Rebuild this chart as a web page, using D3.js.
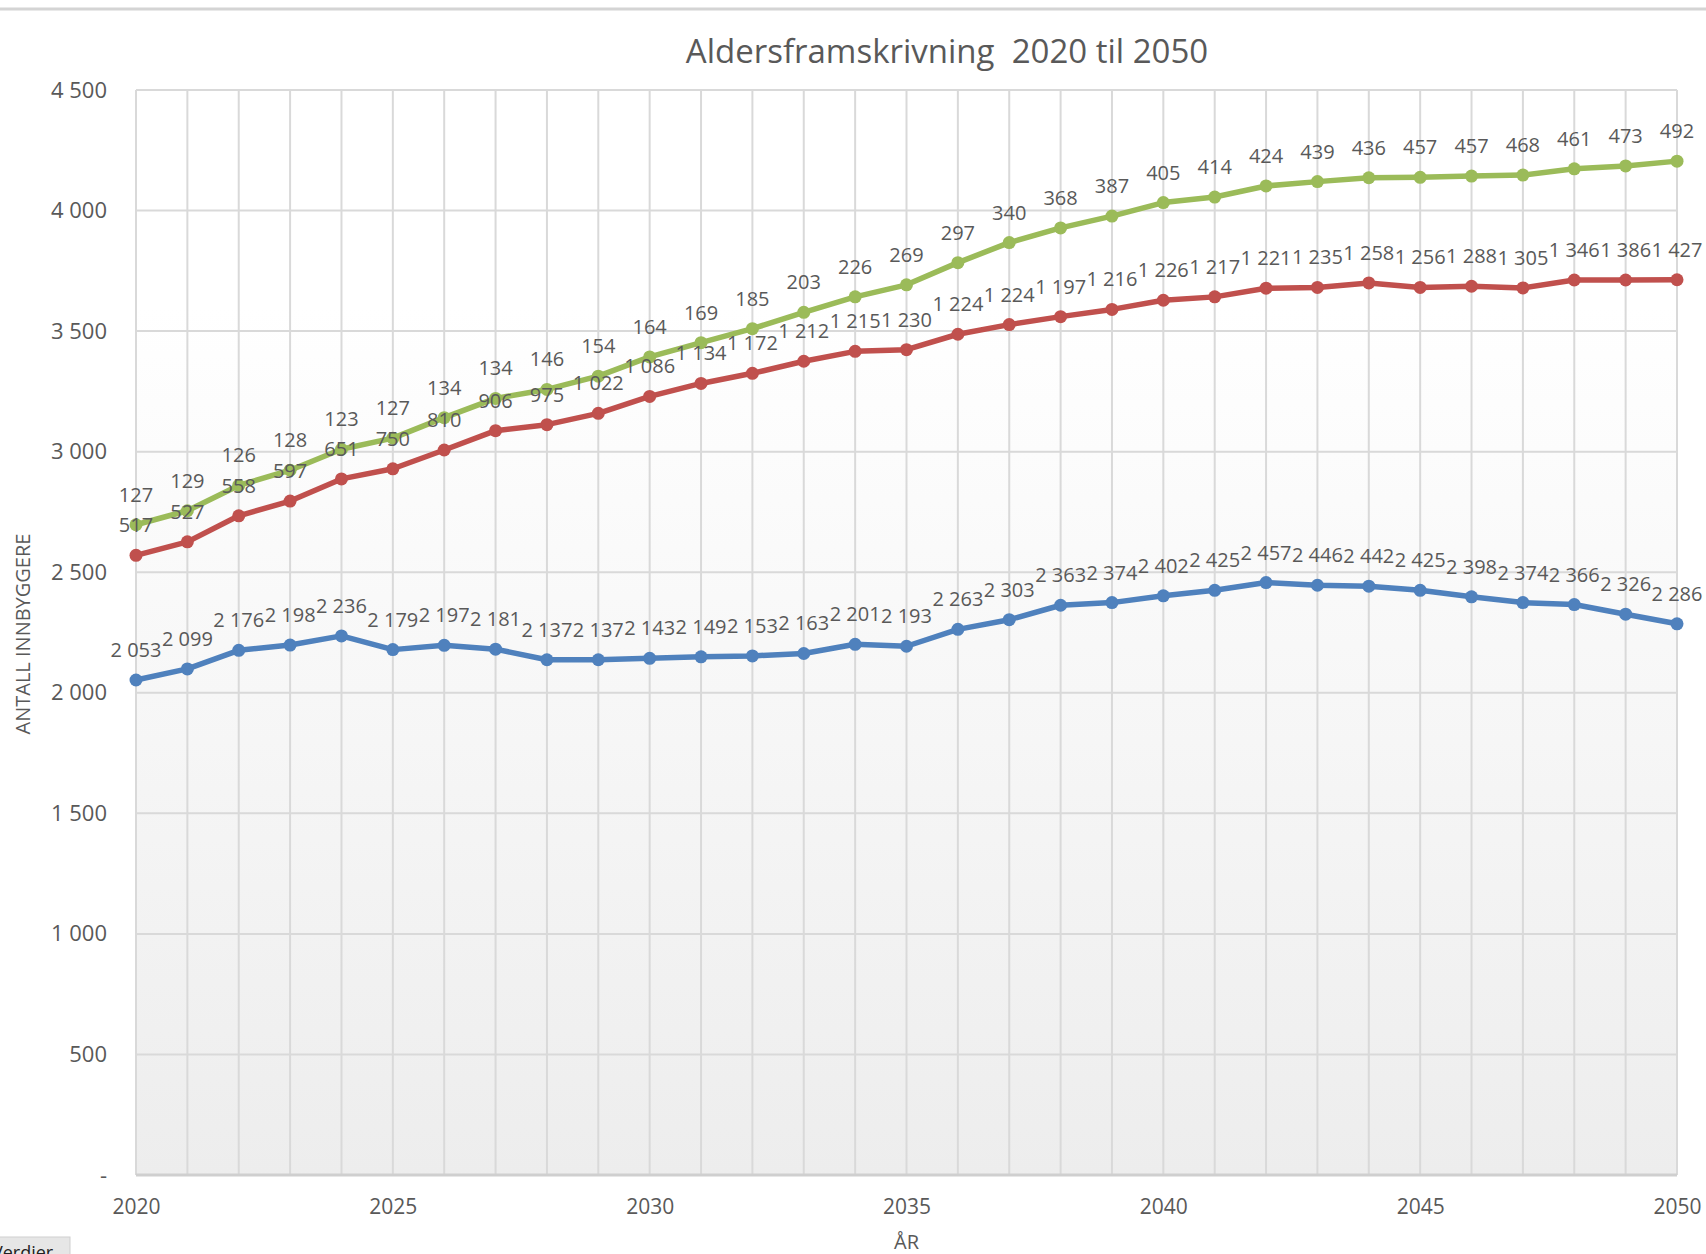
<html>
<head>
<meta charset="utf-8">
<title>Aldersframskrivning</title>
<style>
  body { margin: 0; background: #fff; }
  text { font-family: "Open Sans", sans-serif; fill: #595959; }
</style>
</head>
<body>
<script src="https://cdn.jsdelivr.net/npm/d3@7/dist/d3.min.js"></script>
<script>
// år
var years = d3.range(2020, 2051);
// serier (stablet)
var blue = [2053, 2099, 2176, 2198, 2236, 2179, 2197, 2181, 2137, 2137, 2143, 2149, 2153, 2163, 2201, 2193,
            2263, 2303, 2363, 2374, 2402, 2425, 2457, 2446, 2442, 2425, 2398, 2374, 2366, 2326, 2286];
var red = [517, 527, 558, 597, 651, 750, 810, 906, 975, 1022, 1086, 1134, 1172, 1212, 1215, 1230,
           1224, 1224, 1197, 1216, 1226, 1217, 1221, 1235, 1258, 1256, 1288, 1305, 1346, 1386, 1427];
var green = [127, 129, 126, 128, 123, 127, 134, 134, 146, 154, 164, 169, 185, 203, 226, 269,
             297, 340, 368, 387, 405, 414, 424, 439, 436, 457, 457, 468, 461, 473, 492];
var yTicks = [0, 500, 1000, 1500, 2000, 2500, 3000, 3500, 4000, 4500];
var xTicks = [2020, 2025, 2030, 2035, 2040, 2045, 2050];

var W = 1706, H = 1254;
var pl = 136, pr = 1677, pt = 90, pb = 1175;

var loc = d3.formatLocale({decimal: ",", thousands: "\u00a0", grouping: [3], currency: ["", " kr"]});
var fmt = loc.format(",d");

var svg = d3.select("body").append("svg").attr("width", W).attr("height", H);

var x = d3.scaleLinear().domain([2020, 2050]).range([pl, pr]);
var y = d3.scaleLinear().domain([0, 4500]).range([pb, pt]);

// bakgrunn
var grad = svg.append("defs").append("linearGradient")
  .attr("id", "bg").attr("x1", 0).attr("y1", 0).attr("x2", 0).attr("y2", 1);
grad.append("stop").attr("offset", "0").attr("stop-color", "#ffffff");
grad.append("stop").attr("offset", "0.2").attr("stop-color", "#ffffff");
grad.append("stop").attr("offset", "1").attr("stop-color", "#ededed");

svg.append("line").attr("x1", 0).attr("x2", W).attr("y1", 9).attr("y2", 9)
  .attr("stroke", "#d4d4d4").attr("stroke-width", 3);

svg.append("rect").attr("x", pl).attr("y", pt).attr("width", pr - pl).attr("height", pb - pt)
  .attr("fill", "url(#bg)");

// rutenett
svg.append("g").selectAll("line").data(yTicks.slice(1)).enter().append("line")
  .attr("x1", pl).attr("x2", pr).attr("y1", d => y(d)).attr("y2", d => y(d))
  .attr("stroke", "#d9d9d9").attr("stroke-width", 2);
svg.append("g").selectAll("line").data(years).enter().append("line")
  .attr("x1", d => x(d)).attr("x2", d => x(d)).attr("y1", pt).attr("y2", pb)
  .attr("stroke", "#d9d9d9").attr("stroke-width", 2);
svg.append("line").attr("x1", pl).attr("x2", pr).attr("y1", pb).attr("y2", pb)
  .attr("stroke", "#cfcfcf").attr("stroke-width", 3);

// akser
var yAxis = d3.axisLeft(y).tickValues(yTicks).tickSize(0).tickPadding(0)
  .tickFormat(d => d === 0 ? "-" : fmt(d));
var gy = svg.append("g").attr("transform", "translate(" + (pl - 29) + ",0)").call(yAxis);
gy.select(".domain").remove();
gy.selectAll("text").attr("font-size", 22).style("fill", "#595959").attr("font-family", "Open Sans");

var xAxis = d3.axisBottom(x).tickValues(xTicks).tickSize(0).tickPadding(0).tickFormat(d3.format("d"));
var gx = svg.append("g").attr("transform", "translate(0," + (pb + 24) + ")").call(xAxis);
gx.select(".domain").remove();
gx.selectAll("text").attr("font-size", 21).style("fill", "#595959").attr("font-family", "Open Sans");

// stablede verdier
var s1 = blue.slice();
var s2 = blue.map((v, i) => v + red[i]);
var s3 = s2.map((v, i) => v + green[i]);

var series = [
  {vals: s1, labels: blue, color: "#4f81bd"},
  {vals: s2, labels: red, color: "#c0504d"},
  {vals: s3, labels: green, color: "#9bbb59"}
];

var line = d3.line().x((d, i) => x(years[i])).y(d => y(d));

series.forEach(function(s) {
  svg.append("path").attr("d", line(s.vals)).attr("fill", "none")
    .attr("stroke", s.color).attr("stroke-width", 5.5).attr("stroke-linejoin", "round");
  svg.append("g").selectAll("circle").data(s.vals).enter().append("circle")
    .attr("cx", (d, i) => x(years[i])).attr("cy", d => y(d)).attr("r", 6.5)
    .attr("fill", s.color);
});

series.forEach(function(s) {
  svg.append("g").selectAll("text").data(s.vals).enter().append("text")
    .attr("x", (d, i) => x(years[i])).attr("y", d => y(d) - 23)
    .attr("text-anchor", "middle").attr("font-size", 20)
    .text((d, i) => fmt(s.labels[i]));
});

// titler
svg.append("text").attr("x", 947).attr("y", 63).attr("text-anchor", "middle")
  .attr("font-size", 33).style("white-space", "pre").text("Aldersframskrivning  2020 til 2050");
svg.append("text").attr("x", (pl + pr) / 2).attr("y", 1249).attr("text-anchor", "middle")
  .attr("font-size", 20).text("ÅR");
svg.append("text").attr("transform", "translate(30,634) rotate(-90)").attr("text-anchor", "middle")
  .attr("font-size", 20).text("ANTALL INNBYGGERE");

// knapp nederst til venstre
svg.append("rect").attr("x", -5).attr("y", 1237).attr("width", 75).attr("height", 30)
  .attr("fill", "#e6e6e6").attr("stroke", "#cfcfcf");
svg.append("text").attr("x", -8).attr("y", 1259).attr("font-size", 18).style("fill", "#222").text("Verdier");
</script>
</body>
</html>
